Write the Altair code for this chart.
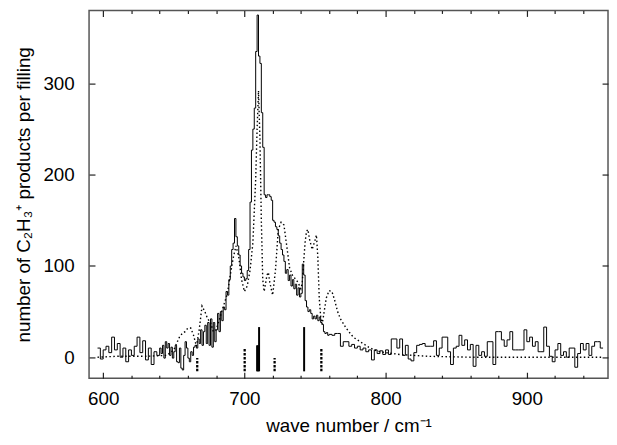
import altair as alt
import pandas as pd

# ---------------- solid trace: step histogram (bin left edge, counts) ----------------
solid_x_a = list(range(596, 640, 2))
solid_y_a = [10, -2, 8, 12, 5, 22, 8, 15, 0, 10, -5, 8, 2, 12, 22, 5, 18, -3, 10, -8, 6, 2]

solid_x_b = list(range(640, 760))
solid_y_b = [
    # 640-679
    10, 4, 13, -1, 17, 10, 15, 2, 11, -1, 6, 13, -5, -6, 10, -12, -14, 2, 17, 10,
    -1, -5, 6, 2, 11, 13, 10, 20, 15, 30, 13, 28, 35, 15, 38, 13, 42, 11, 38, 17,
    # 680-719
    30, 48, 28, 50, 40, 55, 52, 72, 68, 85, 100, 118, 125, 152, 132, 122, 112, 100, 92, 88,
    84, 86, 95, 118, 170, 227, 250, 273, 335, 375, 330, 322, 268, 230, 178, 175, 178, 178, 176, 172,
    # 720-759
    150, 148, 143, 140, 133, 125, 118, 112, 105, 92, 96, 84, 90, 78, 85, 75, 80, 68, 76, 66,
    70, 102, 90, 62, 55, 50, 52, 48, 42, 45, 42, 46, 40, 44, 38, 36, 28, 26, 27, 24,
]

solid_x_c = list(range(760, 954, 2))
solid_y_c = [
    # 760-798
    25, 24, 26, 26, 12, 17, 17, 12, 14, 10, 12, 8, 10, 6, 8, -3, 8, 4, 7, 3,
    # 800-952
    8, 3, 20, 20, 10, 20, 2, 13, -2, -4, 5, 13, 14, 15, 12, 12, 12, 18, 2, 10,
    22, 22, 6, -8, 10, 12, 24, 13, 19, 8, 14, -10, 13, 2, 6, 1, 17, 17, -8, 28,
    28, 19, 12, 19, 28, 8, 8, 8, 8, 30, 17, 22, 12, 17, 6, 6, 33, 12, 1, -5,
    8, 15, 2, 6, 0, 10, 10, -11, 4, 15, 8, 15, 2, 12, 17, 17, 10,
]
solid_end = 954

# ---------------- dotted trace ----------------
dot_x = [596, 610, 630, 645, 650, 652, 654, 656, 658, 660, 662, 664, 666, 668, 670, 672, 674,
         676, 678, 680, 682, 684, 686, 688, 690, 692, 694, 696, 698, 700, 702, 704, 706, 707,
         708, 709, 710, 711, 712, 713, 714, 716, 717, 718, 720, 722, 724, 726, 728, 730, 732,
         734, 736, 738, 740, 741, 742, 743, 744, 745, 746, 748, 750, 751, 752, 753, 754, 755,
         756, 758, 760, 762, 764, 766, 768, 770, 772, 774, 776, 778, 780, 784, 788, 792, 796,
         800, 810, 830, 860, 900, 953]
dot_y = [0, 1, 1, 2, 8, 15, 22, 26, 28, 32, 32, 24, 12, 30, 56, 50, 42,
         38, 28, 30, 40, 50, 60, 70, 90, 108, 122, 110, 85, 72, 78, 95, 125, 160,
         195, 250, 292, 240, 150, 85, 72, 90, 93, 82, 68, 95, 140, 148, 145, 122, 98,
         90, 86, 82, 75, 82, 105, 126, 138, 140, 130, 118, 128, 134, 110, 65, 45, 36,
         45, 65, 73, 72, 62, 50, 42, 37, 32, 28, 24, 21, 19, 15, 11, 8, 6,
         5, 3, 1, 0, 0, 0]

# ---------------- stick spectra ----------------
stick_base = -15.5
stick_solid_x = [709.0, 709.7, 710.4, 742.3]
stick_solid_top = [13, 13, 33, 33]
stick_dot_x = [666.6, 700.2, 721.4, 754.5]
stick_dot_top = [-1, 10, -1, 10]

# ticks
x_major = [600, 700, 800, 900]
x_minor = [620, 640, 660, 680, 720, 740, 760, 780, 820, 840, 860, 880, 920, 940]
y_major = [0, 100, 200, 300]

solid_x = solid_x_a + solid_x_b + solid_x_c + [solid_end]
solid_y = solid_y_a + solid_y_b + solid_y_c
solid_y = solid_y + [solid_y[-1]]
assert len(solid_x) == len(solid_y)
assert len(dot_x) == len(dot_y)

df_solid = pd.DataFrame({"wn": solid_x, "n": solid_y})
df_dot = pd.DataFrame({"wn": dot_x, "n": dot_y})
df_ss = pd.DataFrame({"wn": stick_solid_x, "top": stick_solid_top,
                      "base": [stick_base] * len(stick_solid_x)})
df_sd = pd.DataFrame({"wn": stick_dot_x, "top": stick_dot_top,
                      "base": [stick_base] * len(stick_dot_x)})

FONT = "Liberation Sans"
XS = alt.Scale(domain=[590, 957.5], nice=False, zero=False)
YS = alt.Scale(domain=[-23, 380], nice=False, zero=False)

ax_bottom_major = alt.Axis(orient="bottom", values=x_major, tickSize=6, offset=-6, domain=False,
                           grid=False, labelPadding=12, labelFontSize=19, labelFlush=False,
                           title="wave number / cm\u207b\u00b9", titleFontSize=19, titlePadding=8)
ax_bottom_minor = alt.Axis(orient="bottom", values=x_minor, tickSize=3, offset=-3, domain=False,
                           grid=False, labels=False, title="")
ax_top_major = alt.Axis(orient="top", values=x_major, tickSize=6, offset=-6, domain=False,
                        grid=False, labels=False, title="")
ax_top_minor = alt.Axis(orient="top", values=x_minor, tickSize=3, offset=-3, domain=False,
                        grid=False, labels=False, title="")
ax_left = alt.Axis(orient="left", values=y_major, tickSize=6, offset=-6, domain=False, grid=False,
                   labelPadding=15, labelFontSize=19,
                   title="number of C\u2082H\u2083\u207a products per filling",
                   titleFontSize=19, titlePadding=10)
ax_right = alt.Axis(orient="right", values=y_major, tickSize=6, offset=-6, domain=False,
                    grid=False, labels=False, title="")

sticks_solid = alt.Chart(df_ss).mark_rule(color="black", strokeWidth=2).encode(
    x=alt.X("wn:Q", scale=XS, axis=ax_bottom_major),
    y=alt.Y("base:Q", scale=YS, axis=ax_left),
    y2="top:Q",
)
sticks_dot = alt.Chart(df_sd).mark_rule(color="black", strokeWidth=2.3, strokeDash=[2.5, 1.5]).encode(
    x=alt.X("wn:Q", scale=XS, axis=ax_bottom_minor),
    y=alt.Y("base:Q", scale=YS, axis=ax_right),
    y2="top:Q",
)
dot_line = alt.Chart(df_dot).mark_line(color="black", strokeWidth=1.4, strokeDash=[1.5, 2.5]).encode(
    x=alt.X("wn:Q", scale=XS, axis=ax_top_major),
    y=alt.Y("n:Q", scale=YS, axis=None),
)
solid_line = alt.Chart(df_solid).mark_line(color="black", strokeWidth=1, interpolate="step-after").encode(
    x=alt.X("wn:Q", scale=XS, axis=ax_top_minor),
    y=alt.Y("n:Q", scale=YS, axis=None),
)

chart = alt.layer(sticks_solid, sticks_dot, dot_line, solid_line).resolve_axis(
    x="independent", y="independent"
).properties(
    width=525, height=372,
    autosize=alt.AutoSizeParams(type="none"),
    padding={"left": 82, "top": 0, "right": 1, "bottom": 57},
).configure_view(
    stroke="#555555", strokeWidth=1.5
).configure_axis(
    labelFont=FONT, titleFont=FONT, labelColor="black", titleColor="black",
    tickColor="#222222", tickWidth=1.2, titleFontWeight="normal",
)

chart.save("out.html", embed_options={"renderer": "svg", "actions": False})
